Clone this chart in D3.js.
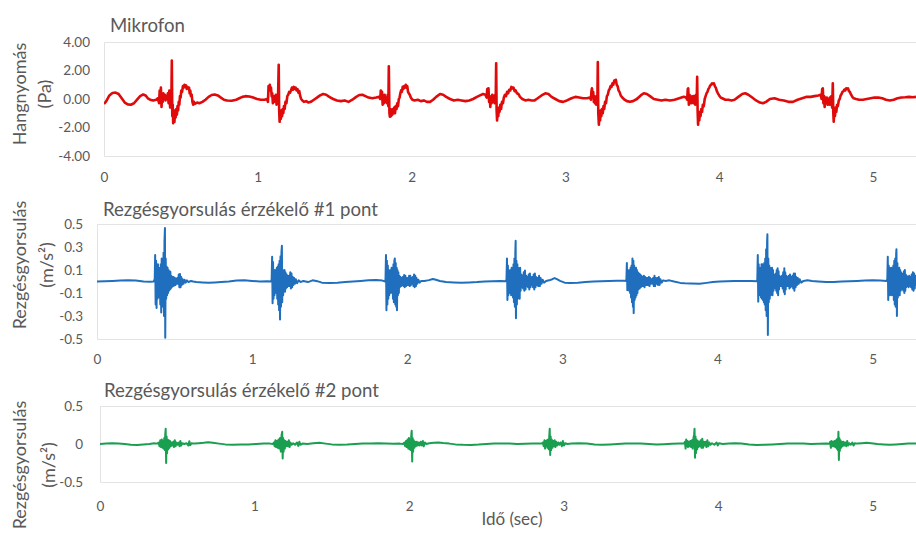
<!DOCTYPE html>
<html>
<head>
<meta charset="utf-8">
<script src="https://cdn.jsdelivr.net/npm/d3@7"></script>
<style>
  html, body { margin: 0; padding: 0; background: #ffffff; }
  svg { display: block; }
  text { font-family: Lato, "Open Sans", sans-serif; fill: #595959; }
</style>
</head>
<body>
<svg id="chart" width="916" height="536"></svg>
<script>
// Time axis ticks (seconds)
const timeTicks = [0, 1, 2, 3, 4, 5];

// Microphone sound pressure, [time s, pressure Pa]
const micSamples = [
[0.000,-0.35],[0.015,-0.15],[0.035,0.25],[0.055,0.42],[0.075,0.45],[0.095,0.35],[0.115,0.05],[0.135,-0.25],[0.155,-0.38],[0.175,-0.40],[0.195,-0.30],[0.215,-0.05],[0.235,0.20],[0.255,0.32],[0.270,0.25],[0.285,0.05],[0.300,-0.05],[0.320,-0.10],[0.340,-0.05],[0.350,0.05],
[0.358,-0.30],[0.362,0.60],[0.366,0.20],[0.370,0.80],[0.374,-0.55],[0.378,0.30],[0.382,-0.20],[0.386,0.40],[0.390,0.00],[0.395,0.30],[0.400,-0.10],[0.405,0.20],[0.410,0.00],[0.415,0.40],[0.420,-0.30],[0.425,0.60],[0.430,-0.60],[0.434,0.50],[0.438,-0.20],[0.441,2.70],[0.444,-1.20],[0.447,-0.40],[0.450,-1.70],[0.454,-0.80],[0.458,-1.60],[0.462,-0.90],[0.466,-1.30],[0.470,-0.70],[0.474,-1.10],[0.478,-0.50],[0.482,-0.80],[0.486,-0.20],[0.490,-0.40],[0.494,0.20],[0.498,0.10],[0.503,0.60],[0.508,0.50],[0.513,0.90],[0.518,0.80],[0.523,1.00],[0.528,0.85],[0.533,0.95],[0.538,0.70],[0.543,0.85],[0.548,0.75],[0.553,0.80],[0.557,0.40],[0.561,0.60],[0.565,0.20],[0.570,0.30],[0.575,-0.20],[0.580,-0.40],[0.585,-0.20],[0.590,-0.35],
[0.605,-0.25],[0.620,-0.30],[0.640,-0.20],[0.660,-0.05],[0.680,0.15],[0.700,0.28],[0.720,0.32],[0.740,0.25],[0.760,0.10],[0.780,-0.05],[0.800,-0.10],[0.830,-0.12],[0.860,-0.05],[0.880,0.05],[0.900,0.15],[0.920,0.20],[0.945,0.18],[0.970,0.10],[0.995,0.00],[1.020,-0.05],[1.045,-0.05],[1.060,0.00],
[1.066,-0.20],[1.070,0.90],[1.074,0.70],[1.078,1.00],[1.082,0.60],[1.086,0.80],[1.090,0.20],[1.094,0.40],[1.098,-0.30],[1.102,0.10],[1.106,-0.20],[1.110,0.20],[1.114,-0.10],[1.118,0.30],[1.122,-0.40],[1.126,0.20],[1.131,-0.30],[1.136,2.40],[1.139,-0.80],[1.142,-1.60],[1.146,-0.90],[1.150,-1.40],[1.154,-0.80],[1.158,-1.20],[1.162,-0.70],[1.166,-1.00],[1.170,-0.50],[1.175,-0.70],[1.180,-0.20],[1.186,-0.30],[1.192,0.20],[1.198,0.30],[1.204,0.50],[1.210,0.45],[1.216,0.60],[1.222,0.80],[1.228,0.65],[1.234,0.85],[1.240,0.70],[1.246,0.80],[1.252,0.60],[1.258,0.70],[1.264,0.45],[1.270,0.55],[1.276,0.20],[1.282,0.00],[1.290,-0.10],[1.300,-0.20],[1.315,-0.15],[1.330,-0.25],[1.345,-0.20],
[1.365,-0.05],[1.385,0.10],[1.405,0.25],[1.425,0.35],[1.445,0.30],[1.465,0.15],[1.490,0.00],[1.515,-0.10],[1.540,-0.15],[1.565,-0.10],[1.590,-0.20],[1.615,-0.05],[1.640,0.15],[1.660,0.28],[1.680,0.30],[1.700,0.20],[1.720,0.10],[1.745,0.05],[1.770,0.10],[1.790,0.15],
[1.796,0.00],[1.800,0.60],[1.804,0.20],[1.808,0.50],[1.812,-0.40],[1.816,0.20],[1.820,-0.30],[1.825,0.30],[1.830,-0.20],[1.835,0.10],[1.840,-0.30],[1.845,0.30],[1.849,-0.50],[1.852,2.30],[1.856,-1.00],[1.859,-1.25],[1.863,-0.70],[1.867,-1.20],[1.871,-0.80],[1.875,-1.10],[1.879,-0.70],[1.883,-1.00],[1.887,-0.60],[1.892,-1.00],[1.897,-0.50],[1.902,-0.70],[1.907,-0.30],[1.912,-0.50],[1.917,0.00],[1.922,0.10],[1.927,0.40],[1.932,0.60],[1.937,0.50],[1.942,0.85],[1.947,0.70],[1.952,0.90],[1.957,0.80],[1.962,1.00],[1.967,0.80],[1.972,0.90],[1.977,0.50],[1.982,0.40],[1.988,0.30],[1.995,0.10],[2.005,-0.05],[2.020,-0.10],[2.040,-0.05],[2.060,-0.15],[2.080,-0.10],[2.100,-0.20],
[2.120,-0.20],[2.140,-0.05],[2.160,0.15],[2.185,0.35],[2.205,0.30],[2.225,0.15],[2.250,0.00],[2.275,-0.10],[2.300,-0.05],[2.325,-0.10],[2.350,-0.15],[2.375,-0.10],[2.400,0.00],[2.425,0.15],[2.445,0.25],[2.465,0.35],[2.480,0.30],
[2.488,0.10],[2.492,0.70],[2.496,0.30],[2.500,0.75],[2.504,-0.20],[2.508,0.20],[2.512,-0.55],[2.516,0.10],[2.520,-0.30],[2.525,0.30],[2.530,-0.20],[2.535,0.20],[2.540,-0.30],[2.544,0.30],[2.547,-0.20],[2.550,2.50],[2.553,-0.80],[2.556,-1.50],[2.560,-0.70],[2.564,-1.20],[2.568,-0.60],[2.572,-0.90],[2.577,-0.40],[2.582,-0.70],[2.588,-0.20],[2.594,-0.30],[2.600,0.10],[2.607,0.30],[2.614,0.20],[2.621,0.50],[2.628,0.40],[2.635,0.65],[2.642,0.60],[2.649,0.85],[2.656,0.75],[2.663,0.80],[2.670,0.55],[2.677,0.60],[2.685,0.40],[2.695,0.35],[2.705,0.15],[2.720,0.00],[2.740,-0.10],[2.760,-0.05],[2.780,-0.10],[2.800,-0.10],
[2.820,0.05],[2.845,0.25],[2.870,0.40],[2.890,0.35],[2.910,0.15],[2.935,0.00],[2.960,-0.15],[2.985,-0.20],[3.010,-0.10],[3.040,0.05],[3.065,0.15],[3.090,0.10],[3.115,0.05],[3.140,0.05],[3.160,0.10],
[3.166,-0.05],[3.170,0.60],[3.173,0.75],[3.177,0.20],[3.181,0.50],[3.185,-0.20],[3.189,0.20],[3.193,-0.30],[3.197,0.10],[3.201,-0.40],[3.205,0.20],[3.208,-0.30],[3.211,2.60],[3.214,-1.00],[3.218,-1.80],[3.222,-0.90],[3.226,-1.50],[3.230,-0.80],[3.234,-1.20],[3.238,-0.70],[3.243,-1.00],[3.248,-0.50],[3.253,-0.70],[3.258,-0.20],[3.264,-0.30],[3.270,0.20],[3.276,0.30],[3.282,0.60],[3.288,0.70],[3.294,0.90],[3.300,0.85],[3.306,1.10],[3.312,1.00],[3.318,1.30],[3.323,1.20],[3.328,1.35],[3.334,1.00],[3.340,0.90],[3.346,0.60],[3.352,0.50],[3.360,0.25],[3.370,0.10],[3.385,-0.05],[3.400,-0.15],[3.420,-0.20],[3.440,-0.15],
[3.465,0.00],[3.490,0.25],[3.510,0.40],[3.530,0.35],[3.550,0.20],[3.575,0.00],[3.600,-0.05],[3.625,-0.10],[3.650,-0.05],[3.680,-0.10],[3.710,-0.05],[3.740,0.05],[3.770,0.15],[3.785,0.10],
[3.792,-0.05],[3.796,0.70],[3.799,0.75],[3.803,-0.40],[3.807,0.30],[3.811,-0.20],[3.815,0.20],[3.819,-0.30],[3.823,0.10],[3.827,-0.20],[3.831,0.20],[3.835,-0.30],[3.840,0.20],[3.845,-0.40],[3.850,0.30],[3.854,-0.20],[3.857,1.55],[3.860,-0.80],[3.863,-1.80],[3.867,-1.00],[3.871,-1.50],[3.875,-0.90],[3.879,-1.20],[3.884,-0.70],[3.889,-0.90],[3.894,-0.40],[3.900,-0.50],[3.906,0.00],[3.912,0.20],[3.918,0.40],[3.924,0.50],[3.930,0.70],[3.936,0.80],[3.942,0.95],[3.948,1.00],[3.954,1.10],[3.960,1.05],[3.966,1.10],[3.972,0.90],[3.978,0.80],[3.985,0.55],[3.992,0.40],[4.000,0.25],[4.010,0.10],[4.020,0.05],[4.040,-0.05],[4.060,-0.05],[4.080,-0.10],
[4.100,-0.05],[4.125,0.15],[4.150,0.35],[4.170,0.40],[4.190,0.30],[4.215,0.10],[4.240,-0.10],[4.265,-0.25],[4.285,-0.30],[4.305,-0.20],[4.330,0.00],[4.360,0.05],[4.390,-0.05],[4.420,-0.10],[4.450,-0.20],[4.480,-0.20],[4.510,-0.05],[4.540,0.05],[4.570,0.15],[4.595,0.15],[4.620,0.20],[4.645,0.25],[4.660,0.30],
[4.666,0.00],[4.670,0.70],[4.674,0.75],[4.678,-0.30],[4.682,0.20],[4.686,-0.55],[4.690,0.10],[4.695,-0.30],[4.700,0.10],[4.705,-0.40],[4.710,0.00],[4.715,-0.40],[4.720,0.10],[4.725,-0.40],[4.730,0.20],[4.735,-0.60],[4.739,1.10],[4.742,-0.90],[4.745,-1.60],[4.749,-0.80],[4.753,-1.20],[4.757,-0.60],[4.762,-0.90],[4.767,-0.40],[4.772,-0.50],[4.778,-0.10],[4.784,0.00],[4.790,0.25],[4.796,0.35],[4.802,0.50],[4.808,0.55],[4.814,0.65],[4.820,0.60],[4.826,0.75],[4.832,0.70],[4.838,0.75],[4.844,0.55],[4.850,0.50],[4.858,0.30],[4.866,0.15],[4.875,0.05],[4.890,0.00],
[4.910,-0.05],[4.935,-0.05],[4.960,0.00],[4.985,0.05],[5.010,0.10],[5.035,0.10],[5.060,0.05],[5.085,-0.05],[5.110,-0.10],[5.135,-0.05],[5.160,0.05],[5.185,0.10],[5.210,0.12],[5.235,0.15],[5.260,0.12],[5.280,0.15]
];

// Vibration acceleration, sensor point #1, [time s, m/s²]
const acc1Samples = [
[0.000,0.000],[0.050,0.002],[0.100,0.005],[0.150,0.008],[0.200,0.010],[0.250,0.008],[0.300,0.000],[0.340,-0.003],[0.365,0.000],
[0.372,0.02],[0.375,0.23],[0.378,-0.20],[0.381,0.18],[0.384,-0.23],[0.387,0.12],[0.390,-0.15],[0.393,0.15],[0.396,-0.12],[0.399,0.10],[0.402,-0.14],[0.405,0.12],[0.408,-0.20],[0.411,0.15],[0.414,-0.27],[0.417,0.20],[0.420,-0.18],[0.423,0.15],[0.426,-0.22],[0.429,0.25],[0.432,-0.30],[0.435,0.35],[0.438,0.465],[0.440,-0.49],[0.443,0.20],[0.446,-0.15],[0.449,0.13],[0.452,-0.12],[0.455,0.12],[0.458,-0.10],[0.461,0.10],[0.464,-0.08],[0.467,0.09],[0.470,-0.07],[0.473,0.085],[0.476,-0.06],[0.479,0.05],[0.482,-0.05],[0.486,0.04],[0.490,-0.04],[0.494,0.04],[0.498,-0.035],[0.502,0.03],[0.506,-0.03],[0.510,0.025],[0.514,-0.02],[0.518,0.03],[0.522,-0.02],[0.527,0.06],[0.531,-0.05],[0.535,0.065],[0.539,-0.05],[0.543,0.04],[0.547,-0.03],[0.552,0.02],[0.558,-0.02],[0.565,0.015],[0.572,-0.01],[0.580,0.01],[0.590,-0.005],[0.605,0.005],[0.620,0.000],[0.640,-0.005],
[0.680,-0.008],[0.720,-0.010],[0.760,-0.008],[0.800,-0.005],[0.850,0.000],[0.900,0.008],[0.950,0.010],[1.000,0.005],[1.050,0.000],[1.100,0.002],[1.122,0.000],
[1.126,0.02],[1.129,0.215],[1.132,-0.19],[1.135,0.17],[1.138,-0.15],[1.141,0.10],[1.144,-0.12],[1.147,0.10],[1.150,-0.08],[1.153,0.08],[1.156,-0.10],[1.159,0.12],[1.162,-0.15],[1.165,0.13],[1.168,-0.20],[1.171,0.15],[1.174,-0.25],[1.177,0.18],[1.180,-0.33],[1.183,0.22],[1.186,-0.22],[1.189,0.25],[1.192,0.31],[1.194,-0.18],[1.197,0.10],[1.200,-0.12],[1.203,0.09],[1.206,-0.08],[1.209,0.10],[1.212,-0.09],[1.215,0.08],[1.218,-0.06],[1.222,0.06],[1.226,-0.05],[1.230,0.05],[1.234,-0.04],[1.238,0.05],[1.242,-0.04],[1.246,0.08],[1.250,-0.06],[1.254,0.07],[1.258,-0.05],[1.262,0.04],[1.266,-0.03],[1.271,0.03],[1.276,-0.02],[1.282,0.02],[1.290,-0.015],[1.300,0.01],[1.312,-0.005],
[1.330,0.005],[1.360,-0.005],[1.390,0.01],[1.420,0.003],[1.450,-0.01],[1.500,-0.012],[1.550,-0.01],[1.600,-0.005],[1.650,0.000],[1.700,0.005],[1.750,0.010],[1.800,0.012],[1.840,0.008],[1.858,0.000],
[1.860,0.02],[1.863,0.23],[1.866,-0.25],[1.869,0.18],[1.872,-0.20],[1.875,0.14],[1.878,-0.15],[1.881,0.10],[1.884,-0.12],[1.887,0.09],[1.890,-0.10],[1.893,0.10],[1.896,-0.08],[1.899,0.12],[1.902,-0.10],[1.905,0.12],[1.908,-0.15],[1.911,0.15],[1.914,-0.18],[1.917,0.18],[1.920,0.20],[1.923,-0.20],[1.926,0.16],[1.929,-0.22],[1.932,0.12],[1.934,-0.25],[1.937,0.10],[1.940,-0.12],[1.943,0.08],[1.946,-0.10],[1.949,0.05],[1.952,-0.05],[1.956,0.04],[1.960,-0.04],[1.964,0.03],[1.968,-0.03],[1.972,0.04],[1.976,-0.04],[1.980,0.057],[1.984,-0.05],[1.988,0.05],[1.992,-0.04],[1.996,0.03],[2.000,-0.03],[2.004,0.03],[2.008,-0.03],[2.012,0.05],[2.016,-0.04],[2.020,0.05],[2.024,-0.03],[2.028,0.03],[2.032,-0.02],[2.036,0.04],[2.040,-0.04],[2.044,0.06],[2.048,-0.05],[2.052,0.05],[2.056,-0.04],[2.060,0.03],[2.065,-0.02],[2.072,0.015],[2.080,-0.01],[2.090,0.005],[2.110,0.005],[2.140,0.012],[2.165,0.022],[2.185,0.015],[2.210,0.005],[2.250,-0.005],[2.300,-0.008],[2.350,-0.01],[2.400,-0.008],[2.450,-0.005],[2.500,0.000],[2.550,0.003],[2.600,0.005],[2.636,0.003],
[2.640,0.02],[2.643,0.20],[2.646,-0.16],[2.649,0.14],[2.652,-0.12],[2.655,0.10],[2.658,-0.08],[2.661,0.08],[2.664,-0.10],[2.667,0.10],[2.670,-0.12],[2.673,0.12],[2.676,-0.10],[2.679,0.10],[2.682,-0.14],[2.685,0.15],[2.688,-0.18],[2.691,0.20],[2.694,-0.22],[2.697,0.26],[2.699,0.355],[2.701,-0.32],[2.704,0.18],[2.707,-0.20],[2.710,0.15],[2.713,-0.15],[2.716,0.12],[2.719,-0.12],[2.722,0.10],[2.725,-0.15],[2.728,0.12],[2.731,-0.08],[2.735,0.06],[2.739,-0.05],[2.743,0.05],[2.747,-0.06],[2.751,0.08],[2.755,-0.08],[2.759,0.095],[2.763,-0.07],[2.767,0.05],[2.771,-0.04],[2.775,0.04],[2.779,-0.05],[2.783,0.06],[2.787,-0.07],[2.791,0.07],[2.795,-0.05],[2.799,0.04],[2.803,-0.03],[2.807,0.04],[2.811,-0.05],[2.815,0.06],[2.819,-0.07],[2.823,0.07],[2.827,-0.05],[2.831,0.04],[2.835,-0.03],[2.840,0.03],[2.845,-0.04],[2.850,0.05],[2.855,-0.04],[2.860,0.03],[2.866,-0.02],[2.873,0.015],[2.882,-0.01],[2.895,0.005],[2.915,0.01],[2.935,0.02],[2.950,0.03],[2.965,0.02],[2.985,0.005],[3.015,-0.01],[3.050,-0.012],[3.100,-0.01],[3.150,-0.005],[3.200,0.000],[3.250,0.003],[3.300,0.005],[3.350,0.006],[3.400,0.006],[3.412,0.005],
[3.413,0.02],[3.416,0.16],[3.419,-0.075],[3.422,0.10],[3.425,-0.06],[3.428,0.08],[3.431,-0.08],[3.434,0.10],[3.437,-0.10],[3.440,0.12],[3.443,-0.14],[3.446,0.14],[3.449,-0.18],[3.452,0.20],[3.455,-0.22],[3.458,0.18],[3.460,-0.275],[3.463,0.14],[3.466,-0.16],[3.469,0.12],[3.472,-0.14],[3.475,0.12],[3.478,-0.12],[3.481,0.10],[3.484,-0.10],[3.487,0.08],[3.490,-0.07],[3.494,0.07],[3.498,-0.06],[3.502,0.06],[3.506,-0.05],[3.510,0.05],[3.514,-0.04],[3.518,0.04],[3.522,-0.04],[3.526,0.05],[3.530,-0.05],[3.534,0.04],[3.538,-0.03],[3.542,0.03],[3.546,-0.03],[3.550,0.03],[3.554,-0.03],[3.558,0.04],[3.562,-0.04],[3.566,0.03],[3.570,-0.02],[3.575,0.02],[3.580,-0.02],[3.585,0.03],[3.590,-0.04],[3.594,0.05],[3.598,-0.04],[3.602,0.03],[3.607,-0.02],[3.612,0.03],[3.617,-0.03],[3.622,0.04],[3.627,-0.03],[3.632,0.02],[3.640,-0.01],[3.650,0.01],[3.665,0.005],[3.690,0.01],[3.720,0.000],[3.760,-0.012],[3.790,-0.016],[3.830,-0.018],[3.885,-0.02],[3.930,-0.012],[3.970,-0.005],[4.015,0.000],[4.060,0.002],[4.110,0.004],[4.175,0.005],[4.220,0.004],[4.255,0.002],
[4.257,0.02],[4.260,0.23],[4.263,-0.175],[4.266,0.15],[4.269,-0.12],[4.272,0.12],[4.275,-0.10],[4.278,0.12],[4.281,-0.14],[4.284,0.15],[4.287,-0.15],[4.290,0.15],[4.293,-0.16],[4.296,0.14],[4.299,-0.18],[4.302,0.16],[4.305,-0.20],[4.308,0.20],[4.311,-0.25],[4.314,0.28],[4.317,-0.30],[4.320,0.34],[4.322,0.41],[4.325,-0.465],[4.328,0.20],[4.331,-0.18],[4.334,0.14],[4.337,-0.15],[4.340,0.12],[4.343,-0.12],[4.346,0.10],[4.349,-0.10],[4.352,0.12],[4.355,-0.12],[4.358,0.10],[4.361,-0.08],[4.364,0.06],[4.367,-0.06],[4.370,0.05],[4.373,-0.05],[4.376,0.07],[4.379,-0.08],[4.382,0.10],[4.385,-0.10],[4.388,0.115],[4.391,-0.12],[4.394,0.09],[4.397,-0.07],[4.400,0.05],[4.404,-0.04],[4.408,0.04],[4.412,-0.04],[4.416,0.05],[4.420,-0.06],[4.424,0.08],[4.428,-0.09],[4.431,0.115],[4.434,-0.11],[4.437,0.08],[4.440,-0.07],[4.444,0.05],[4.448,-0.04],[4.452,0.04],[4.456,-0.04],[4.460,0.05],[4.464,-0.06],[4.468,0.06],[4.472,-0.05],[4.476,0.04],[4.480,-0.04],[4.484,0.05],[4.488,-0.06],[4.492,0.07],[4.496,-0.08],[4.500,0.07],[4.504,-0.05],[4.508,0.04],[4.513,-0.03],[4.518,0.03],[4.524,-0.02],[4.530,0.02],[4.540,-0.01],[4.555,0.005],[4.580,0.01],[4.610,0.005],[4.650,0.000],[4.700,-0.005],[4.750,-0.005],[4.800,0.000],[4.850,0.003],[4.900,0.005],[4.950,0.008],[5.000,0.010],[5.050,0.008],[5.090,0.004],
[5.095,0.02],[5.098,0.215],[5.101,-0.16],[5.104,0.14],[5.107,-0.12],[5.110,0.12],[5.113,-0.10],[5.116,0.10],[5.119,-0.12],[5.122,0.12],[5.125,-0.10],[5.128,0.10],[5.131,-0.12],[5.134,0.14],[5.137,-0.16],[5.140,0.18],[5.143,-0.20],[5.146,0.20],[5.149,-0.22],[5.152,0.24],[5.154,0.28],[5.157,-0.30],[5.160,0.16],[5.163,-0.14],[5.166,0.12],[5.169,-0.12],[5.172,0.12],[5.175,-0.12],[5.178,0.10],[5.181,-0.08],[5.184,0.08],[5.187,-0.07],[5.190,0.06],[5.193,-0.06],[5.196,0.07],[5.199,-0.08],[5.202,0.09],[5.205,-0.10],[5.208,0.10],[5.211,-0.08],[5.214,0.06],[5.217,-0.05],[5.220,0.05],[5.224,-0.04],[5.228,0.04],[5.232,-0.05],[5.236,0.05],[5.240,-0.04],[5.244,0.04],[5.248,-0.05],[5.252,0.06],[5.256,-0.07],[5.260,0.08],[5.264,-0.08],[5.268,0.07],[5.272,-0.06],[5.276,0.05],[5.280,-0.04]
];

// Vibration acceleration, sensor point #2, [time s, m/s²]
const acc2Samples = [
[0.000,0.00],[0.040,0.005],[0.080,0.010],[0.120,0.005],[0.160,0.000],[0.200,-0.010],[0.240,-0.012],[0.280,-0.005],[0.320,0.000],[0.350,0.010],[0.370,0.005],
[0.380,0.02],[0.385,-0.03],[0.390,0.05],[0.395,-0.04],[0.400,0.06],[0.404,-0.05],[0.408,0.04],[0.412,-0.06],[0.416,0.08],[0.419,-0.08],[0.422,0.12],[0.425,0.20],[0.428,-0.25],[0.431,0.10],[0.434,-0.12],[0.437,0.06],[0.441,-0.07],[0.445,0.05],[0.449,-0.05],[0.453,0.04],[0.458,-0.03],[0.463,0.02],[0.468,-0.02],[0.474,0.03],[0.479,-0.04],[0.484,0.05],[0.489,-0.03],[0.495,0.02],[0.502,-0.01],[0.510,0.02],[0.515,-0.03],[0.520,0.04],[0.525,-0.02],[0.532,0.01],[0.545,0.00],[0.560,0.01],[0.572,-0.02],[0.578,0.035],[0.584,-0.015],[0.592,0.01],[0.610,0.005],[0.640,0.010],[0.670,0.015],[0.700,0.022],[0.730,0.015],[0.770,0.005],[0.810,-0.005],[0.860,-0.010],[0.910,-0.008],[0.960,-0.005],[1.010,0.000],[1.060,0.005],[1.100,0.005],[1.120,0.000],
[1.125,0.02],[1.130,-0.03],[1.135,0.05],[1.140,-0.04],[1.145,0.04],[1.150,-0.05],[1.155,0.06],[1.160,-0.06],[1.165,0.08],[1.170,-0.10],[1.175,0.12],[1.179,0.16],[1.182,-0.19],[1.185,0.08],[1.188,-0.10],[1.192,0.05],[1.196,-0.06],[1.200,0.04],[1.205,-0.03],[1.210,0.03],[1.216,-0.03],[1.222,0.05],[1.227,-0.04],[1.232,0.02],[1.240,-0.01],[1.250,0.01],[1.262,-0.01],[1.275,0.02],[1.283,-0.025],[1.290,0.03],[1.297,-0.01],[1.310,0.005],[1.340,0.000],[1.380,0.010],[1.420,0.015],[1.460,0.005],[1.500,-0.005],[1.550,-0.010],[1.600,-0.008],[1.650,0.000],[1.700,0.005],[1.750,0.008],[1.800,0.010],[1.850,0.005],[1.900,0.002],[1.940,0.005],[1.960,0.000],
[1.970,0.02],[1.975,-0.03],[1.980,0.04],[1.985,-0.04],[1.990,0.06],[1.995,-0.06],[1.999,0.08],[2.003,-0.07],[2.007,0.06],[2.011,-0.08],[2.014,0.12],[2.017,0.175],[2.020,-0.23],[2.023,0.08],[2.026,-0.10],[2.030,0.05],[2.034,-0.05],[2.039,0.03],[2.044,-0.03],[2.050,0.03],[2.056,-0.02],[2.062,0.02],[2.068,-0.02],[2.075,0.03],[2.082,-0.02],[2.089,0.04],[2.095,-0.03],[2.102,0.02],[2.112,0.00],[2.130,0.01],[2.160,0.015],[2.190,0.020],[2.220,0.012],[2.260,0.005],[2.300,-0.005],[2.350,-0.010],[2.400,-0.012],[2.450,-0.008],[2.500,0.000],[2.550,0.005],[2.600,0.008],[2.650,0.005],[2.700,0.000],[2.750,0.002],[2.800,0.005],[2.840,0.008],[2.860,0.005],
[2.866,0.02],[2.871,-0.03],[2.876,0.05],[2.880,-0.06],[2.884,0.04],[2.888,-0.03],[2.892,0.05],[2.896,-0.05],[2.900,0.06],[2.904,-0.07],[2.907,0.10],[2.910,0.20],[2.913,-0.145],[2.916,0.10],[2.919,-0.08],[2.923,0.06],[2.927,-0.05],[2.932,0.04],[2.937,-0.03],[2.942,0.05],[2.947,-0.04],[2.952,0.03],[2.958,-0.02],[2.965,0.02],[2.972,-0.01],[2.980,0.02],[2.988,-0.03],[2.995,0.04],[3.002,-0.02],[3.010,0.01],[3.025,0.00],[3.050,0.005],[3.100,0.010],[3.150,0.005],[3.200,-0.005],[3.250,-0.010],[3.300,-0.005],[3.350,0.000],[3.400,0.005],[3.450,0.008],[3.500,0.005],[3.550,0.000],[3.600,-0.005],[3.650,-0.002],[3.700,0.003],[3.750,0.005],[3.780,0.005],
[3.785,0.03],[3.789,-0.06],[3.793,0.06],[3.797,-0.03],[3.801,0.04],[3.805,-0.04],[3.810,0.03],[3.815,-0.03],[3.820,0.04],[3.825,-0.04],[3.830,0.05],[3.835,-0.06],[3.840,0.08],[3.844,0.12],[3.847,0.20],[3.850,-0.18],[3.853,0.10],[3.856,-0.12],[3.860,0.06],[3.864,-0.07],[3.868,0.04],[3.872,-0.04],[3.877,0.03],[3.882,-0.03],[3.887,0.05],[3.892,-0.05],[3.897,0.07],[3.902,-0.05],[3.907,0.03],[3.912,-0.02],[3.918,0.03],[3.924,-0.04],[3.930,0.05],[3.936,-0.03],[3.942,0.02],[3.950,-0.01],[3.960,0.01],[3.975,-0.01],[3.990,0.02],[3.997,-0.02],[4.005,0.01],[4.030,0.000],[4.070,0.008],[4.110,0.010],[4.150,0.005],[4.200,-0.005],[4.250,-0.012],[4.300,-0.010],[4.350,-0.005],[4.400,0.000],[4.450,0.005],[4.500,0.008],[4.550,0.005],[4.600,0.000],[4.650,0.002],[4.700,0.005],[4.720,0.003],
[4.725,0.03],[4.729,-0.05],[4.733,0.04],[4.738,-0.03],[4.743,0.03],[4.748,-0.03],[4.753,0.04],[4.758,-0.04],[4.763,0.05],[4.767,-0.06],[4.771,0.07],[4.775,-0.08],[4.778,0.16],[4.781,-0.21],[4.784,0.08],[4.787,-0.09],[4.791,0.05],[4.795,-0.05],[4.800,0.03],[4.805,-0.03],[4.811,0.03],[4.817,-0.02],[4.823,0.02],[4.829,-0.03],[4.835,0.04],[4.841,-0.02],[4.848,0.01],[4.858,-0.01],[4.868,0.02],[4.876,-0.02],[4.884,0.01],[4.900,0.005],[4.930,0.01],[4.960,0.015],[4.990,0.01],[5.030,0.00],[5.070,-0.005],[5.110,-0.01],[5.150,-0.005],[5.190,0.000],[5.230,0.005],[5.280,0.005]
];

// Y-axis ticks and their printed labels for each panel
const micTicks = [-4, -2, 0, 2, 4];
const micTickLabels = ["-4.00", "-2.00", "0.00", "2.00", "4.00"];
const acc1Ticks = [-0.5, -0.3, -0.1, 0.1, 0.3, 0.5];
const acc1TickLabels = ["-0.5", "-0.3", "-0.1", "0.1", "0.3", "0.5"];
const acc2Ticks = [-0.5, 0, 0.5];
const acc2TickLabels = ["-0.5", "0", "0.5"];

const panels = [
  { title: "Mikrofon", yTitle: ["Hangnyomás", "(Pa)"], samples: micSamples,
    yDomain: [-4, 4], ticks: micTicks, tickLabels: micTickLabels, color: "#e00a0a", width: 2.6,
    left: 104, top: 42, bottom: 156, yTitleY: 94, xTickY: 177, titleY: 32, titleX: 110, yLabelX: 90, yT2: 51 },
  { title: "Rezgésgyorsulás érzékelő #1 pont", yTitle: ["Rezgésgyorsulás", "(m/s²)"], samples: acc1Samples,
    yDomain: [-0.5, 0.5], ticks: acc1Ticks, tickLabels: acc1TickLabels, color: "#1f6fbe", width: 2,
    left: 97, top: 224, bottom: 339, yTitleY: 265, xTickY: 359, titleY: 216, titleX: 103, yLabelX: 83, yT2: 53 },
  { title: "Rezgésgyorsulás érzékelő #2 pont", yTitle: ["Rezgésgyorsulás", "(m/s²)"], samples: acc2Samples,
    yDomain: [-0.5, 0.5], ticks: acc2Ticks, tickLabels: acc2TickLabels, color: "#1a9e50", width: 2,
    left: 100, top: 406, bottom: 482, yTitleY: 465, xTickY: 506, titleY: 397, titleX: 104, yLabelX: 83, yT2: 55 }
];

const svg = d3.select("#chart");
const W = 916;

panels.forEach((p, i) => {
  const x = d3.scaleLinear().domain([0, 5.28]).range([p.left, W]);
  const y = d3.scaleLinear().domain(p.yDomain).range([p.bottom, p.top]);
  const g = svg.append("g");

  // plot area frame (open on the right where the trace runs past the edge)
  g.append("path")
    .attr("d", `M${W + 2},${p.top + 0.5}H${p.left + 0.5}V${p.bottom + 0.5}H${W + 2}`)
    .attr("fill", "none").attr("stroke", "#e3e3e3").attr("stroke-width", 1);

  // title
  g.append("text").attr("x", p.titleX).attr("y", p.titleY)
    .attr("font-size", 18.6).text(p.title);

  // y axis
  const yAxis = d3.axisLeft(y).tickValues(p.ticks).tickSize(0).tickPadding(0)
    .tickFormat((d, k) => p.tickLabels[k]);
  const ya = g.append("g").attr("transform", `translate(${p.yLabelX},0)`).call(yAxis);
  ya.select(".domain").remove();
  ya.selectAll("text").attr("font-size", 13.5).attr("font-family", "Lato, sans-serif").attr("fill", "#595959");

  // x axis (time)
  const xAxis = d3.axisBottom(x).tickValues(timeTicks).tickSize(0).tickPadding(0)
    .tickFormat(d3.format("d"));
  const xa = g.append("g").attr("transform", `translate(0,${p.xTickY})`).call(xAxis);
  xa.select(".domain").remove();
  xa.selectAll("text").attr("y", 0).attr("dy", "0.35em")
    .attr("font-size", 13.5).attr("font-family", "Lato, sans-serif").attr("fill", "#595959");

  // y axis title, two rotated lines
  const yt = g.append("text")
    .attr("transform", `translate(0,${p.yTitleY}) rotate(-90)`)
    .attr("text-anchor", "middle").attr("font-size", 18);
  yt.append("tspan").attr("x", 0).attr("y", 26).text(p.yTitle[0]);
  yt.append("tspan").attr("x", 0).attr("y", p.yT2).text(p.yTitle[1]);

  // clipped signal trace
  const clipId = "clip" + i;
  svg.append("clipPath").attr("id", clipId).append("rect")
    .attr("x", p.left).attr("y", p.top - 20).attr("width", W - p.left).attr("height", p.bottom - p.top + 40);
  const line = d3.line().x(d => x(d[0])).y(d => y(d[1]));
  g.append("path").datum(p.samples)
    .attr("clip-path", `url(#${clipId})`)
    .attr("d", line)
    .attr("fill", "none").attr("stroke", p.color)
    .attr("stroke-width", p.width).attr("stroke-linejoin", "round");
});

// shared time axis title
svg.append("text").attr("x", 512).attr("y", 525).attr("text-anchor", "middle")
  .attr("font-size", 17).text("Idő (sec)");
</script>
</body>
</html>
